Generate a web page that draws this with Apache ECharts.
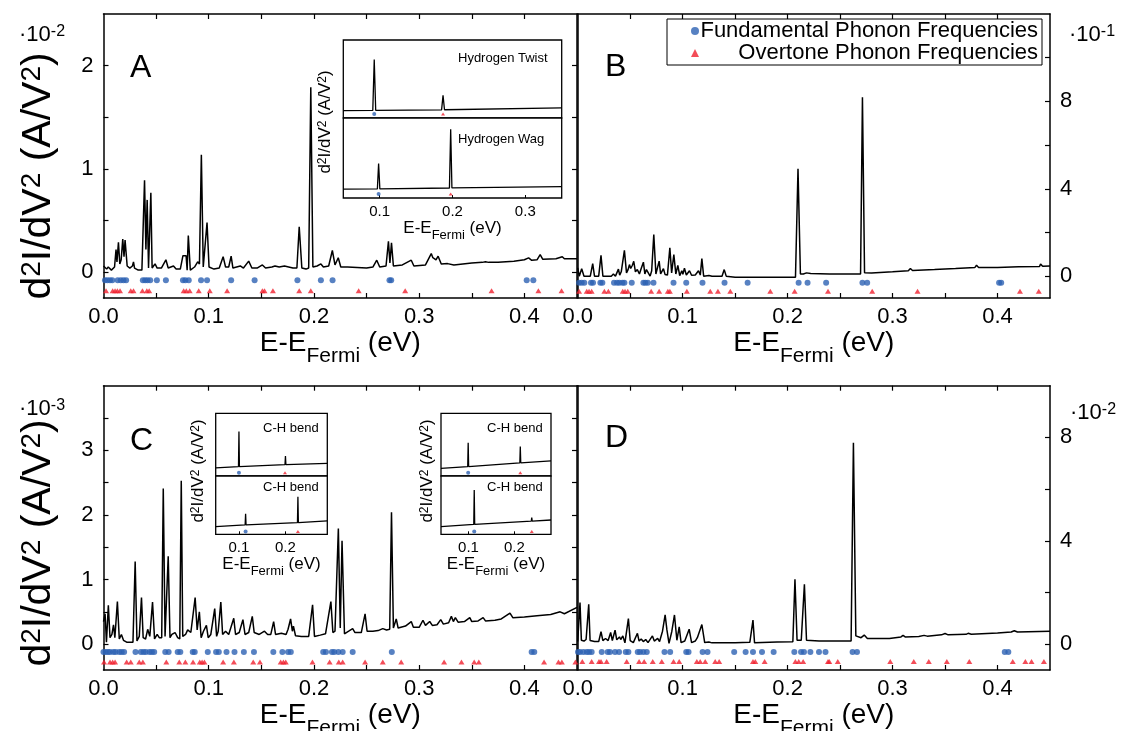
<!DOCTYPE html>
<html><head><meta charset="utf-8">
<script src="https://cdn.jsdelivr.net/npm/echarts@6/dist/echarts.min.js"></script>
<style>html,body{margin:0;padding:0;background:#fff}#c{width:1127px;height:731px}</style>
</head><body><div id="c"></div>
<script>
// ---------------- DATA ----------------
// x: E-E_Fermi (eV); y in the units shown on each panel's axis (A: 1e-2, B: 1e-1, C: 1e-3, D: 1e-2 A/V^2)
const spectrumA = [[0.000,0.06],[0.0015,0.05],[0.003,0.03],[0.0045,0.05],[0.006,0.05],[0.0075,0.02],[0.009,0.02],[0.0105,0.05],[0.0119,0.22],[0.0128,0.1],[0.0142,0.29],[0.0155,0.08],[0.0168,0.12],[0.0183,0.32],[0.0195,0.15],[0.0205,0.31],[0.0215,0.31],[0.0225,0.06],[0.025,0.04],[0.0275,0.06],[0.0285,0.1],[0.0295,0.04],[0.033,0.02],[0.0365,0.02],[0.039,0.89],[0.0403,0.22],[0.0415,0.70],[0.0428,0.04],[0.0450,0.77],[0.0462,0.04],[0.0475,0.06],[0.049,0.08],[0.051,0.04],[0.055,0.04],[0.0593,0.12],[0.0615,0.04],[0.0665,0.06],[0.069,0.03],[0.073,0.03],[0.0755,0.16],[0.077,0.16],[0.0785,0.16],[0.0795,0.02],[0.0806,0.355],[0.0825,0.02],[0.0865,0.05],[0.0895,0.10],[0.0912,0.08],[0.093,1.138],[0.0948,0.05],[0.0966,0.05],[0.0984,0.48],[0.1003,0.05],[0.105,0.03],[0.110,0.04],[0.1137,0.15],[0.116,0.05],[0.119,0.05],[0.1213,0.156],[0.123,0.04],[0.130,0.06],[0.133,0.04],[0.138,0.107],[0.141,0.04],[0.146,0.04],[0.151,0.07],[0.154,0.04],[0.160,0.05],[0.163,0.06],[0.167,0.05],[0.172,0.06],[0.176,0.05],[0.180,0.04],[0.1838,0.04],[0.186,0.44],[0.1885,0.04],[0.1925,0.03],[0.1950,0.04],[0.197,1.79],[0.199,0.05],[0.203,0.06],[0.2066,0.08],[0.209,0.05],[0.214,0.06],[0.2175,0.21],[0.2200,0.07],[0.2231,0.14],[0.2255,0.05],[0.232,0.05],[0.241,0.045],[0.250,0.04],[0.256,0.05],[0.2597,0.116],[0.2625,0.05],[0.2685,0.06],[0.2708,0.30],[0.2722,0.09],[0.2737,0.285],[0.2755,0.06],[0.284,0.07],[0.2925,0.116],[0.295,0.06],[0.306,0.07],[0.3115,0.18],[0.313,0.14],[0.3145,0.15],[0.316,0.12],[0.318,0.155],[0.321,0.08],[0.327,0.083],[0.333,0.07],[0.350,0.09],[0.360,0.095],[0.363,0.10],[0.366,0.095],[0.375,0.095],[0.390,0.105],[0.400,0.12],[0.404,0.139],[0.407,0.115],[0.412,0.12],[0.415,0.171],[0.4175,0.125],[0.430,0.13],[0.436,0.15],[0.438,0.13],[0.45,0.13]];
const spectrumB = [[0.000,0.38],[0.0015,0.0],[0.0038,0.34],[0.006,0.0],[0.012,0.0],[0.0143,0.57],[0.0160,0.0],[0.020,0.0],[0.0222,0.95],[0.024,0.0],[0.032,0.0],[0.034,0.1],[0.036,0.0],[0.0388,0.32],[0.040,0.05],[0.0415,0.2],[0.0445,1.18],[0.0465,0.15],[0.048,0.3],[0.0493,0.53],[0.0505,0.35],[0.0521,0.5],[0.0534,0.68],[0.055,0.2],[0.0568,0.3],[0.0588,0.1],[0.0605,0.35],[0.0626,0.64],[0.064,0.1],[0.0655,0.3],[0.067,0.25],[0.069,0.0],[0.0705,0.25],[0.0725,1.91],[0.0745,0.1],[0.0776,0.69],[0.079,0.1],[0.0817,0.34],[0.0832,0.08],[0.0855,0.05],[0.0878,1.30],[0.0895,0.15],[0.0916,0.99],[0.0935,0.1],[0.0954,0.49],[0.0972,0.02],[0.0992,0.25],[0.1002,0.08],[0.1017,0.36],[0.1035,0.05],[0.1065,0.25],[0.1085,0.04],[0.112,0.05],[0.1151,0.25],[0.1168,0.05],[0.1183,0.80],[0.1200,0.0],[0.125,0.03],[0.1265,0.12],[0.128,0.0],[0.1375,0.0],[0.1396,0.30],[0.1415,0.0],[0.150,-0.05],[0.180,-0.05],[0.2075,-0.05],[0.2099,4.92],[0.2122,0.1],[0.215,0.1],[0.218,0.15],[0.222,0.12],[0.240,0.1],[0.260,0.1],[0.2695,0.1],[0.2713,8.19],[0.2733,0.16],[0.280,0.15],[0.300,0.2],[0.315,0.25],[0.317,0.35],[0.319,0.26],[0.340,0.3],[0.360,0.35],[0.3785,0.4],[0.380,0.5],[0.382,0.4],[0.400,0.4],[0.420,0.43],[0.440,0.44],[0.441,0.55],[0.443,0.45],[0.45,0.46]];
const spectrumC = [[0.000,0.35],[0.0015,0.47],[0.0028,0.03],[0.0046,0.60],[0.0062,0.10],[0.0080,0.15],[0.0095,0.30],[0.0108,0.10],[0.0132,0.66],[0.0150,0.08],[0.0170,0.15],[0.0190,0.06],[0.0220,0.03],[0.0280,0.03],[0.0301,1.28],[0.0318,0.05],[0.0340,0.12],[0.0361,0.72],[0.0377,0.10],[0.0400,0.08],[0.0420,0.23],[0.0440,0.12],[0.0466,0.65],[0.0485,0.08],[0.0510,0.15],[0.0530,0.10],[0.0553,0.10],[0.0568,2.41],[0.0585,0.12],[0.0600,0.15],[0.0615,1.36],[0.0632,0.10],[0.0650,0.15],[0.0680,0.18],[0.0705,0.10],[0.0725,0.08],[0.0739,2.53],[0.0753,0.12],[0.0780,0.15],[0.0800,0.22],[0.0830,0.18],[0.0871,0.72],[0.0890,0.22],[0.0911,0.50],[0.0928,0.10],[0.0950,0.20],[0.0978,0.29],[0.0995,0.10],[0.1020,0.15],[0.1057,0.55],[0.1075,0.12],[0.1090,0.20],[0.1115,0.65],[0.1132,0.15],[0.1160,0.20],[0.1190,0.15],[0.1238,0.40],[0.1255,0.15],[0.1290,0.18],[0.1325,0.38],[0.1345,0.15],[0.1380,0.18],[0.1414,0.43],[0.1432,0.18],[0.1480,0.15],[0.1530,0.20],[0.1560,0.15],[0.1590,0.15],[0.1617,0.35],[0.1635,0.15],[0.1690,0.17],[0.1735,0.15],[0.1754,0.23],[0.1778,0.39],[0.1795,0.20],[0.1805,0.28],[0.1825,0.13],[0.1880,0.12],[0.1950,0.12],[0.1987,0.61],[0.2005,0.12],[0.2060,0.14],[0.2110,0.16],[0.2161,0.66],[0.2180,0.18],[0.2200,0.20],[0.2232,1.79],[0.2250,0.25],[0.2267,1.60],[0.2290,0.16],[0.2330,0.20],[0.2368,0.24],[0.2390,0.18],[0.2450,0.18],[0.2486,0.47],[0.2505,0.20],[0.2560,0.20],[0.2610,0.21],[0.2654,0.24],[0.2690,0.22],[0.2720,0.23],[0.2737,2.04],[0.2755,0.25],[0.2782,0.39],[0.2800,0.25],[0.2870,0.28],[0.2925,0.35],[0.2945,0.26],[0.3000,0.26],[0.3036,0.37],[0.3060,0.29],[0.3100,0.35],[0.3125,0.29],[0.3170,0.30],[0.3205,0.38],[0.3230,0.31],[0.3280,0.33],[0.3306,0.43],[0.3325,0.35],[0.3344,0.41],[0.3370,0.34],[0.3430,0.35],[0.3481,0.41],[0.3500,0.35],[0.3560,0.36],[0.3608,0.41],[0.3630,0.36],[0.3720,0.37],[0.3780,0.39],[0.3863,0.48],[0.3890,0.41],[0.4000,0.42],[0.4120,0.44],[0.4250,0.46],[0.4340,0.50],[0.4380,0.47],[0.4500,0.57]];
const spectrumD = [[0.000,0.10],[0.0010,0.10],[0.0022,1.61],[0.0035,0.15],[0.0060,0.12],[0.0080,0.18],[0.0094,0.12],[0.0105,1.54],[0.0118,0.14],[0.0160,0.10],[0.0200,0.10],[0.0222,0.48],[0.0240,0.14],[0.0265,0.22],[0.0290,0.14],[0.0314,0.45],[0.0330,0.14],[0.0356,0.54],[0.0372,0.17],[0.0398,0.28],[0.0410,0.18],[0.0430,0.32],[0.0450,0.05],[0.0483,0.99],[0.0500,0.14],[0.0530,0.06],[0.0569,0.42],[0.0585,0.12],[0.0605,0.20],[0.0625,0.10],[0.0648,0.18],[0.0670,0.06],[0.0712,0.32],[0.0730,0.12],[0.0762,0.22],[0.0780,0.10],[0.0808,0.50],[0.0833,1.13],[0.0850,0.55],[0.0870,0.03],[0.0897,0.50],[0.0922,1.13],[0.0945,0.15],[0.0967,0.67],[0.0985,0.06],[0.1020,0.12],[0.1062,0.58],[0.1085,0.06],[0.1120,0.12],[0.1140,0.25],[0.1183,0.76],[0.1210,0.06],[0.1250,0.08],[0.1280,0.05],[0.1500,0.05],[0.1640,0.07],[0.1655,0.05],[0.1670,0.93],[0.1685,0.05],[0.1900,0.08],[0.2050,0.09],[0.2070,2.51],[0.2090,0.15],[0.2130,0.15],[0.2160,2.32],[0.2180,0.15],[0.2300,0.12],[0.2500,0.12],[0.2605,0.12],[0.2627,7.79],[0.2650,0.32],[0.2700,0.25],[0.2730,0.35],[0.2760,0.22],[0.2970,0.22],[0.3080,0.28],[0.3100,0.34],[0.3120,0.28],[0.3250,0.30],[0.3300,0.34],[0.3330,0.31],[0.3466,0.36],[0.3500,0.41],[0.3530,0.36],[0.3700,0.38],[0.3720,0.42],[0.3750,0.38],[0.4000,0.43],[0.4130,0.47],[0.4160,0.52],[0.4190,0.47],[0.4500,0.50]];

const fundamentalA = [0.0014,0.0037,0.0062,0.0084,0.0135,0.0164,0.019,0.0215,0.0374,0.0396,0.0418,0.0444,0.0507,0.0593,0.0755,0.0778,0.081,0.0927,0.0984,0.1213,0.1436,0.1843,0.2066,0.2177,0.2718,0.2734,0.4022,0.4085];
const overtoneA = [0.0024,0.0087,0.011,0.0132,0.0157,0.0259,0.0285,0.037,0.0412,0.0434,0.0762,0.0787,0.0819,0.0905,0.101,0.1175,0.151,0.153,0.161,0.186,0.197,0.2425,0.2867,0.3688,0.4133,0.4353];
const fundamentalB = [0.0013,0.0038,0.0063,0.0127,0.0146,0.0216,0.0235,0.0346,0.0375,0.0397,0.0426,0.0445,0.0515,0.0626,0.0645,0.0668,0.0722,0.0913,0.1034,0.1189,0.1399,0.1619,0.2105,0.219,0.2367,0.2713,0.2758,0.4015,0.4035];
const overtoneB = [0.0013,0.0086,0.0108,0.0133,0.0254,0.0292,0.0429,0.0451,0.0477,0.07,0.0776,0.0859,0.0878,0.104,0.1263,0.1336,0.1454,0.1835,0.2067,0.2385,0.2806,0.3238,0.4214,0.4393];
const fundamentalC = [0.0,0.0021,0.0043,0.0062,0.0094,0.0116,0.015,0.0173,0.0196,0.0304,0.0355,0.038,0.0402,0.0437,0.046,0.0482,0.0587,0.0619,0.0705,0.073,0.0848,0.0867,0.0991,0.107,0.1096,0.1169,0.1245,0.1334,0.143,0.1614,0.17,0.1754,0.178,0.2088,0.2114,0.2171,0.2193,0.2232,0.2273,0.2368,0.274,0.4069,0.4094];
const overtoneC = [0.0005,0.0062,0.0087,0.011,0.022,0.0259,0.034,0.0374,0.0597,0.072,0.0778,0.0851,0.0915,0.0937,0.0959,0.1137,0.1239,0.1423,0.1487,0.1684,0.171,0.1732,0.1986,0.2149,0.2236,0.2273,0.2486,0.2654,0.2829,0.3237,0.3402,0.3523,0.3567,0.4187,0.4324,0.4356,0.4485];
const fundamentalD = [0.0003,0.0022,0.0054,0.0086,0.0108,0.0133,0.0229,0.0286,0.0308,0.0356,0.0394,0.0458,0.0483,0.0572,0.0594,0.0626,0.0658,0.0827,0.0881,0.1034,0.1056,0.119,0.1237,0.1491,0.16,0.167,0.1756,0.1867,0.2064,0.2128,0.2156,0.2217,0.2299,0.2361,0.2619,0.2661,0.4069,0.4103];
const overtoneD = [0.0044,0.0133,0.0203,0.0222,0.0276,0.0467,0.0585,0.0633,0.0715,0.0801,0.0913,0.0967,0.1135,0.1167,0.1215,0.131,0.1348,0.167,0.1692,0.1781,0.2074,0.2106,0.2148,0.2385,0.2397,0.2478,0.2978,0.3202,0.3345,0.3517,0.3731,0.4145,0.4265,0.4324,0.4442];
// marker rows (y value where the frequency markers are drawn, in panel units)
const fundamentalRow = {A:-0.077, B:-0.30, C:-0.12, D:-0.30};
const overtoneRow = {A:-0.18, B:-0.69, C:-0.275, D:-0.67};

// insets (normalised y, 0..1 for each sub-panel)
const insetTwist = [[0.05,0.094],[0.0905,0.097],[0.0925,0.75],[0.0945,0.098],[0.185,0.105],[0.187,0.29],[0.189,0.106],[0.35,0.13]];
const insetWag = [[0.05,0.11],[0.0968,0.113],[0.0985,0.43],[0.1002,0.114],[0.1958,0.125],[0.1975,0.86],[0.1992,0.126],[0.35,0.143]];
const insetCL1 = [[0.05,0.13],[0.099,0.15],[0.1,0.71],[0.101,0.15],[0.199,0.18],[0.2,0.32],[0.201,0.18],[0.29,0.2]];
const insetCL2 = [[0.05,0.13],[0.1133,0.16],[0.1143,0.35],[0.1153,0.16],[0.2258,0.2],[0.2268,0.645],[0.2278,0.2],[0.29,0.23]];
const insetCR1 = [[0.04,0.12],[0.0983,0.15],[0.0993,0.53],[0.1003,0.15],[0.212,0.21],[0.213,0.47],[0.214,0.21],[0.28,0.24]];
const insetCR2 = [[0.04,0.13],[0.1115,0.17],[0.1125,0.76],[0.1135,0.17],[0.237,0.225],[0.238,0.285],[0.239,0.225],[0.28,0.245]];
const insetFund = {tw:0.0925, wag:0.0985, cl1:0.1, cl2:0.1143, cr1:0.0993, cr2:0.1125};
const insetOver = {tw:0.187, wag:0.1975, cl1:0.199, cl2:0.2268, cr1:0.213, cr2:0.238};
const insetRow = 0.05;

const xTickVals = [0.05,0.1,0.15,0.2,0.25,0.3,0.35,0.4];
const xLabelVals = [0,0.1,0.2,0.3,0.4];
const yA = {min:-0.25, max:2.5, labels:[0,1,2], ticks:[0,0.5,1,1.5,2]};
const yB = {min:-1, max:12, labels:[0,4,8], ticks:[0,2,4,6,8,10]};
const yC = {min:-0.4, max:4, labels:[0,1,2,3], ticks:[0,0.5,1,1.5,2,2.5,3,3.5]};
const yD = {min:-1, max:10, labels:[0,4,8], ticks:[0,2,4,6,8]};

const FUND = 'Fundamental Phonon Frequencies';
const OVER = 'Overtone Phonon Frequencies';

// ---------------- STYLE ----------------
const FONT = '"Liberation Sans", Arial, Helvetica, sans-serif';
const BLUE = '#2d62b3';
const RED = '#f0212e';
const LW = 1.5;

const tok = (fs, lh, extra) => Object.assign({fontSize: fs, lineHeight: lh, verticalAlign: 'top', fontFamily: FONT, fontWeight: 'normal', color: '#000'}, extra || {});
const xTitle = (fs, ss, pad) => ({rich: {a: tok(fs, fs + 6), s: tok(ss, ss, {padding: [pad, 0, 0, 0]})}});
const X_NAME = '{a|E-E}{s|Fermi}{a| (eV)}';
const Y_NAME = '{a|d}{s|2}{a|I/dV}{s|2}{a| (A/V}{s|2}{a|)}';
const yTitleRich = (fs, ss) => ({a: tok(fs, fs + 6), s: tok(ss, ss)});

const grids = [
  {left: 103.5, top: 14, width: 473.5, height: 284},
  {left: 577.7, top: 14, width: 472.3, height: 284},
  {left: 103.5, top: 385.7, width: 473.5, height: 284.3},
  {left: 577.7, top: 385.7, width: 472.3, height: 284.3},
  {left: 343.3, top: 40, width: 218.4, height: 78},
  {left: 343.3, top: 118, width: 218.4, height: 80},
  {left: 215.7, top: 413.3, width: 111.6, height: 62.7},
  {left: 215.7, top: 476, width: 111.6, height: 58.3},
  {left: 441, top: 413.3, width: 110, height: 62.7},
  {left: 441, top: 476, width: 110, height: 58.3}
].map((g, i) => Object.assign({outerBoundsMode: 'none', containLabel: false}, g,
  i >= 4 ? {show: true, borderColor: '#000', borderWidth: 1.3, backgroundColor: '#fff'} : {}));

const line = {show: true, onZero: false, lineStyle: {color: '#000', width: LW}};
const tickStyle = vals => ({show: true, inside: true, length: 5, customValues: vals, lineStyle: {color: '#000', width: 1.2}});
function mainX(gi) {
  return [
    {gridIndex: gi, type: 'value', min: 0, max: 0.45, position: 'bottom', axisLine: line,
     axisTick: tickStyle(xTickVals),
     axisLabel: {customValues: xLabelVals, formatter: v => v.toFixed(1), fontSize: 22, margin: 8, color: '#000', fontFamily: FONT},
     splitLine: {show: false},
     name: X_NAME, nameLocation: 'middle', nameGap: 26, nameTextStyle: xTitle(28, 21, 17)},
    {gridIndex: gi, type: 'value', min: 0, max: 0.45, position: 'top', axisLine: line,
     axisTick: tickStyle(xTickVals), axisLabel: {show: false}, splitLine: {show: false}}
  ];
}
function mainY(gi, cfg, labelSide) {
  const labelled = {gridIndex: gi, type: 'value', min: cfg.min, max: cfg.max, position: labelSide, axisLine: line,
    axisTick: tickStyle(cfg.ticks),
    axisLabel: {customValues: cfg.labels, fontSize: 22, margin: 10, color: '#000', fontFamily: FONT},
    splitLine: {show: false}};
  const other = labelSide === 'left' ? 'right' : 'left';
  const mirror = {gridIndex: gi, type: 'value', min: cfg.min, max: cfg.max, position: other, axisLine: line,
    axisTick: labelSide === 'left' ? tickStyle(cfg.ticks) : {show: false},
    axisLabel: {show: false}, splitLine: {show: false}};
  return labelSide === 'left' ? [labelled, mirror] : [mirror, labelled];
}
function insetX(gi, min, max, labels, withLabels) {
  return {gridIndex: gi, type: 'value', min: min, max: max, show: withLabels,
    axisLine: {show: false, onZero: false},
    axisTick: {show: true, inside: true, length: 3, customValues: labels, lineStyle: {color: '#000', width: 1}},
    axisLabel: {customValues: labels, formatter: v => v.toFixed(1), fontSize: 15, margin: 6, color: '#000', fontFamily: FONT},
    splitLine: {show: false},
    name: withLabels ? X_NAME : '', nameLocation: 'middle', nameGap: 19, nameTextStyle: xTitle(17, 13, 9)};
}
const insetY = gi => ({gridIndex: gi, type: 'value', min: 0, max: 1, show: false, splitLine: {show: false}});

const xAxis = [].concat(mainX(0), mainX(1), mainX(2), mainX(3),
  [insetX(4, 0.05, 0.35, [0.1,0.2,0.3], false), insetX(5, 0.05, 0.35, [0.1,0.2,0.3], true),
   insetX(6, 0.05, 0.29, [0.1,0.2], false), insetX(7, 0.05, 0.29, [0.1,0.2], true),
   insetX(8, 0.04, 0.28, [0.1,0.2], false), insetX(9, 0.04, 0.28, [0.1,0.2], true)]);
const yAxis = [].concat(mainY(0, yA, 'left'), mainY(1, yB, 'right'), mainY(2, yC, 'left'), mainY(3, yD, 'right'),
  [insetY(4), insetY(5), insetY(6), insetY(7), insetY(8), insetY(9)]);

const series = [];
function addPanel(xi, yi, spec, fund, over, fRow, oRow, size) {
  series.push({type: 'line', xAxisIndex: xi, yAxisIndex: yi, data: spec, symbol: 'none', silent: true,
    lineStyle: {color: '#000', width: size > 5 ? LW : 1.3}, z: 3});
  series.push({type: 'scatter', name: FUND, xAxisIndex: xi, yAxisIndex: yi, data: fund.map(x => [x, fRow]),
    symbol: 'circle', symbolSize: size, itemStyle: {color: BLUE}, z: 4});
  series.push({type: 'scatter', name: OVER, xAxisIndex: xi, yAxisIndex: yi, data: over.map(x => [x, oRow]),
    symbol: 'triangle', symbolSize: [size, size - 1], itemStyle: {color: RED}, z: 4});
}
addPanel(0, 0, spectrumA, fundamentalA, overtoneA, fundamentalRow.A, overtoneRow.A, 6);
addPanel(2, 3, spectrumB, fundamentalB, overtoneB, fundamentalRow.B, overtoneRow.B, 6);
addPanel(4, 4, spectrumC, fundamentalC, overtoneC, fundamentalRow.C, overtoneRow.C, 6);
addPanel(6, 7, spectrumD, fundamentalD, overtoneD, fundamentalRow.D, overtoneRow.D, 6);
addPanel(8, 8, insetTwist, [insetFund.tw], [insetOver.tw], insetRow, insetRow, 4);
addPanel(9, 9, insetWag, [insetFund.wag], [insetOver.wag], insetRow, insetRow, 4);
addPanel(10, 10, insetCL1, [insetFund.cl1], [insetOver.cl1], insetRow, insetRow, 4);
addPanel(11, 11, insetCL2, [insetFund.cl2], [insetOver.cl2], insetRow, insetRow, 4);
addPanel(12, 12, insetCR1, [insetFund.cr1], [insetOver.cr1], insetRow, insetRow, 4);
addPanel(13, 13, insetCR2, [insetFund.cr2], [insetOver.cr2], insetRow, insetRow, 4);

const multRich = {a: tok(22, 28), s: tok(16, 16)};
const letter = (t, l, tp) => ({text: t, left: l, top: tp, padding: 0, textStyle: {fontSize: 32, fontWeight: 'normal', fontFamily: FONT, color: '#000', lineHeight: 32}});
const mult = (t, l, tp) => ({text: t, left: l, top: tp, padding: 0, textStyle: {fontWeight: 'normal', rich: multRich}});
const note = (t, l, tp) => ({text: t, left: l, top: tp, padding: 0, textStyle: {fontSize: 13, fontWeight: 'normal', fontFamily: FONT, color: '#000', lineHeight: 14}});

const rotatedTitle = (x, y, fs, ss) => ({type: 'text', x: x, y: y, rotation: Math.PI / 2, z: 10,
  style: {text: Y_NAME, rich: yTitleRich(fs, ss), align: 'center', verticalAlign: 'middle', fill: '#000'}});

const option = {
  animation: false,
  backgroundColor: '#fff',
  textStyle: {fontFamily: FONT},
  grid: grids,
  xAxis: xAxis,
  yAxis: yAxis,
  series: series,
  title: [
    letter('A', 130, 52), letter('B', 605, 51), letter('C', 130, 425), letter('D', 605, 422),
    mult('{a|·10}{s|-2}', 19, 24), mult('{a|·10}{s|-1}', 1069, 24),
    mult('{a|·10}{s|-3}', 19, 398), mult('{a|·10}{s|-2}', 1070, 402),
    note('Hydrogen Twist', 458, 51), note('Hydrogen Wag', 458, 132),
    note('C-H bend', 263, 421), note('C-H bend', 263, 480),
    note('C-H bend', 487, 421), note('C-H bend', 487, 480)
  ],
  legend: {
    left: 667, top: 19, orient: 'vertical', padding: [1, 4, 1, 24], itemGap: 0,
    itemWidth: 8, itemHeight: 8, borderColor: '#000', borderWidth: 1, backgroundColor: '#fff',
    selectedMode: false,
    data: [{name: FUND, icon: 'circle'}, {name: OVER, icon: 'triangle'}],
    formatter: n => '{t|' + n + '}',
    textStyle: {fontFamily: FONT, fontSize: 22, color: '#000',
      rich: {t: {width: 334, align: 'right', fontSize: 22, lineHeight: 21, fontFamily: FONT, color: '#000'}}}
  },
  graphic: [
    rotatedTitle(42, 176, 41, 28), rotatedTitle(42, 543, 41, 28),
    rotatedTitle(328, 122, 17, 12), rotatedTitle(201, 471, 17, 12), rotatedTitle(430, 471, 17, 12)
  ]
};
const chart = echarts.init(document.getElementById('c'), null, {renderer: 'canvas'});
chart.setOption(option);
</script></body></html>
